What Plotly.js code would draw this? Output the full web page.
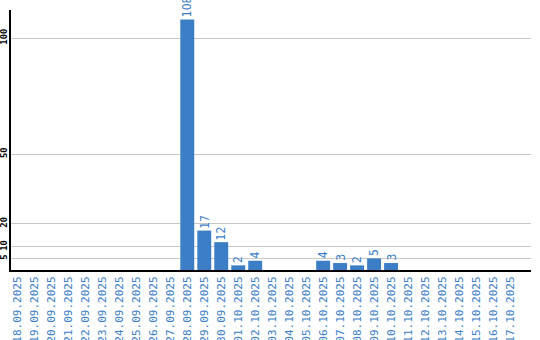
<!DOCTYPE html>
<html>
<head>
<meta charset="utf-8">
<script src="https://cdn.plot.ly/plotly-3.0.1.min.js"></script>
<style>html,body{margin:0;padding:0;background:#fff;}#chart{width:540px;height:340px;}</style>
</head>
<body>
<div id="chart"></div>
<script>
var categories = ["18.09.2025","19.09.2025","20.09.2025","21.09.2025","22.09.2025","23.09.2025","24.09.2025","25.09.2025","26.09.2025","27.09.2025","28.09.2025","29.09.2025","30.09.2025","01.10.2025","02.10.2025","03.10.2025","04.10.2025","05.10.2025","06.10.2025","07.10.2025","08.10.2025","09.10.2025","10.10.2025","11.10.2025","12.10.2025","13.10.2025","14.10.2025","15.10.2025","16.10.2025","17.10.2025"];
var values = [0,0,0,0,0,0,0,0,0,0,108,17,12,2,4,0,0,0,4,3,2,5,3,0,0,0,0,0,0,0];
var yTicks = [5,10,20,50,100];

var blue = "#3b7ec5";
var idx = categories.map(function(c,i){return i;});
var trace = {
  type: "bar",
  x: idx,
  y: values,
  marker: {color: blue},
  hoverinfo: "none"
};
var annotations = [];
values.forEach(function(v, i){
  if (v > 0) {
    annotations.push({
      x: i, y: v, xref: "x", yref: "y",
      text: String(v), showarrow: false,
      textangle: -90, xanchor: "center", yanchor: "bottom",
      yshift: 1, borderpad: 0,
      font: {family: "Liberation Sans Narrow, DejaVu Sans Condensed, Liberation Sans", size: 12, color: blue}
    });
  }
});
var layout = {
  width: 540, height: 340,
  margin: {l: 11, r: 9, t: 10, b: 70},
  paper_bgcolor: "#fff", plot_bgcolor: "#fff",
  showlegend: false,
  bargap: 0.18,
  annotations: annotations,
  xaxis: {
    range: [-0.38, 30.24],
    tickmode: "array", tickvals: idx, ticktext: categories,
    tickangle: -90,
    tickfont: {family: "DejaVu Sans Mono", size: 11, color: blue},
    showgrid: false, zeroline: false,
    showline: true, linecolor: "#000", linewidth: 2,
    ticks: "", fixedrange: true
  },
  yaxis: {
    range: [0, 112.07],
    tickmode: "array", tickvals: yTicks, ticktext: yTicks.map(String),
    tickangle: -90,
    tickfont: {family: "DejaVu Sans Mono", size: 9, color: "#000", weight: "bold"},
    ticklabelstandoff: -2,
    showgrid: true, gridcolor: "#c8c8c8", gridwidth: 1,
    zeroline: false,
    showline: true, linecolor: "#000", linewidth: 2,
    ticks: "", ticklen: 0, fixedrange: true
  }
};
Plotly.newPlot("chart", [trace], layout, {displayModeBar: false, staticPlot: true});
</script>
</body>
</html>
